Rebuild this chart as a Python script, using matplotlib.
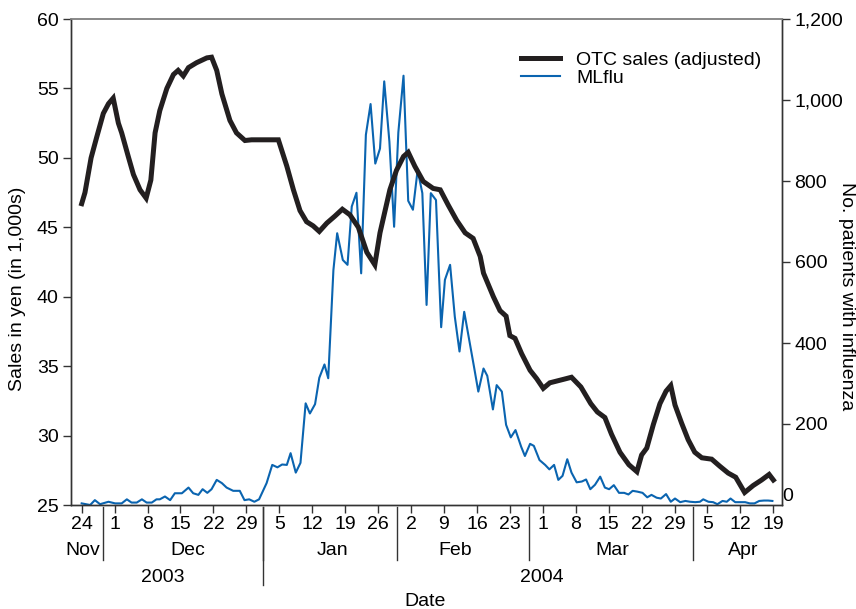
import matplotlib
matplotlib.use("Agg")
import matplotlib.pyplot as plt
from matplotlib.lines import Line2D

plt.rcParams['font.family'] = ['Liberation Sans', 'DejaVu Sans']

# ---- data (day 0 = 24 Nov 2003) ----
otc_day = [0, 0.7, 2, 3.2, 4.6, 5.7, 6.7, 7.8, 8.5, 9.9, 11, 12.4, 13.7, 14.7, 15.6, 16.6,
           18.1, 19.5, 20.5, 21.6, 22.7, 24.4, 26.6, 27.6, 28.7, 29.8, 31.5, 32.9, 34.7,
           36.1, 41.8, 43.6, 45, 46.4, 47.8, 49.2, 50.5, 52.1, 53.8, 55.4, 57, 58.8, 60.6,
           62.3, 63.4, 65.5, 66.9, 68.4, 69.4, 70.8, 72.6, 74.7, 76.2, 77.9, 79.7, 81.5,
           83.2, 84.7, 85.4, 87.5, 88.9, 90.2, 91.0, 92.1, 93.5, 95.3, 96.7, 98.1, 99.5,
           102.4, 104.1, 106.1, 108.2, 109.6, 111.2, 112.6, 114.4, 116.3, 118.0, 119.0,
           120.1, 121.5, 122.9, 124.2, 125.2, 126.1, 127.5, 128.9, 130.3, 131.8, 133.9,
           135.6, 137.4, 139.0, 140.9, 142.7, 144.5, 146.1, 147.0]
otc_sales = [46.7, 47.5, 50.0, 51.5, 53.2, 53.9, 54.3, 52.5, 51.8, 50.1, 48.8, 47.7, 47.1,
             48.4, 51.8, 53.4, 55.0, 56.0, 56.3, 55.9, 56.5, 56.85, 57.2, 57.25, 56.3, 54.6,
             52.7, 51.8, 51.25, 51.3, 51.3, 49.4, 47.7, 46.2, 45.4, 45.1, 44.7, 45.3, 45.8,
             46.3, 45.9, 45.0, 43.2, 42.3, 44.6, 47.7, 49.1, 50.1, 50.4, 49.4, 48.3, 47.8,
             47.7, 46.6, 45.5, 44.6, 44.2, 42.9, 41.7, 40.0, 39.0, 38.6, 37.2, 37.0, 35.9,
             34.7, 34.1, 33.4, 33.8, 34.05, 34.2, 33.5, 32.3, 31.7, 31.3, 30.1, 28.8, 27.9,
             27.4, 28.6, 29.1, 30.8, 32.3, 33.2, 33.6, 32.2, 30.9, 29.7, 28.8, 28.4, 28.3,
             27.8, 27.3, 27.0, 25.9, 26.4, 26.8, 27.2, 26.8]

flu_day = [0.0, 1.8, 2.8, 3.9, 5.7, 7.1, 8.5, 9.6, 10.6, 11.7, 12.8, 13.8, 14.9, 15.9, 16.6,
           17.7, 18.8, 19.8, 21.3, 22.7, 23.7, 24.8, 25.7, 26.7, 27.6, 28.7, 29.8, 30.8,
           32.2, 33.6, 34.6, 35.6, 36.7, 37.7, 39.3, 40.5, 41.6, 42.6, 43.6, 44.4, 45.5,
           46.5, 47.6, 48.5, 49.6, 50.5, 51.6, 52.4, 53.5, 54.3, 55.5, 56.5, 57.4, 58.4,
           59.4, 60.4, 61.4, 62.4, 63.4, 64.3, 65.4, 66.4, 67.3, 68.4, 69.4, 70.4, 71.4,
           72.4, 73.3, 74.2, 75.3, 76.4, 77.2, 78.3, 79.3, 80.3, 81.3, 82.5, 83.4, 84.3,
           85.4, 86.2, 87.4, 88.2, 89.3, 90.2, 91.2, 92.2, 93.4, 94.2, 95.3, 96.1, 97.3,
           98.5, 99.4, 100.4, 101.3, 102.2, 103.2, 104.1, 105.2, 106.3, 107.2, 108.1,
           109.1, 110.2, 111.2, 112.1, 113.1, 114.2, 115.3, 116.2, 117.1, 118.1, 119.2,
           120.2, 121.1, 122.2, 123.1, 124.2, 125.2, 126.1, 127.2, 128.3, 129.3, 130.4,
           131.4, 132.1, 133.2, 134.2, 135.1, 136.2, 137.1, 137.9, 138.9, 139.9, 141.0,
           142.0, 143.0, 144.0, 145.0, 145.9, 146.8]
flu_patients = [4, 0, 12, 2, 8, 4, 4, 14, 6, 6, 14, 6, 6, 14, 14, 21, 12, 29, 29, 43, 29, 25,
                39, 30, 39, 62, 54, 43, 35, 35, 12, 14, 8, 14, 54, 99, 93, 100, 99, 128, 80,
                104, 251, 226, 249, 314, 347, 313, 580, 671, 605, 593, 737, 771, 572, 914,
                990, 843, 880, 1046, 897, 687, 920, 1060, 751, 729, 827, 770, 494, 770, 753,
                439, 556, 593, 465, 379, 477, 399, 340, 280, 337, 319, 236, 296, 280, 198,
                167, 185, 144, 121, 151, 146, 111, 99, 88, 99, 62, 72, 113, 80, 56, 58, 63,
                39, 50, 70, 43, 39, 49, 30, 30, 26, 35, 33, 30, 19, 25, 18, 16, 27, 8, 16, 7,
                10, 8, 7, 8, 14, 8, 7, 2, 10, 8, 16, 7, 7, 7, 4, 4, 10, 11, 11, 10]

week_ticks = list(range(0, 148, 7))
week_labels = ['24', '1', '8', '15', '22', '29', '5', '12', '19', '26', '2', '9', '16',
               '23', '1', '8', '15', '22', '29', '5', '12', '19']
months = ['Nov', 'Dec', 'Jan', 'Feb', 'Mar', 'Apr']
years = ['2003', '2004']

# layout positions (in day units) for the hierarchical date axis
month_label_pos = [0.3, 22.6, 53.4, 79.3, 112.7, 140.6]
month_sep_pos = [4.5, 38.6, 67.1, 95.0, 130.0]
year_sep_pos = 38.6
year_label_pos = [17.3, 97.8]

FS = 14
BLACK = '#231f20'
BLUE = '#0a64b0'

fig = plt.figure(figsize=(8.56, 6.09), dpi=100)
ax = fig.add_axes([71 / 856, 1 - 505 / 609, (782 - 71) / 856, (505 - 19) / 609])
ax2 = ax.twinx()

ax2.plot(flu_day, flu_patients, color=BLUE, lw=1.5, zorder=2)
ax.plot(otc_day, otc_sales, color=BLACK, lw=3.6, solid_joinstyle='miter', zorder=3)
ax.set_zorder(ax2.get_zorder() + 1)
ax.patch.set_visible(False)

ax.set_xlim(-2.27, 148.84)
ax.set_ylim(25, 60)
ax2.set_ylim(0, 1200)

ax.set_yticks(range(25, 61, 5))
ax.tick_params(axis='y', labelsize=FS, length=6, width=1, color='#333333', pad=3)
ax2.set_yticks(range(200, 1201, 200))
ax2.set_yticklabels(['200', '400', '600', '800', '1,000', '1,200'])
ax2.tick_params(axis='y', labelsize=FS, length=6, width=1, color='#333333', pad=3)
ax2.text(1.0, 22, '0', transform=ax2.get_yaxis_transform(), fontsize=FS,
         ha='left', va='center')

ax.set_xticks(week_ticks)
ax.set_xticklabels(week_labels)
ax.tick_params(axis='x', labelsize=FS, length=6, width=1, color='#333333', pad=2)

for a in (ax, ax2):
    for s in ('left', 'right', 'bottom'):
        a.spines[s].set_color('#333333')
        a.spines[s].set_linewidth(1.0)
    a.spines['top'].set_color('#888888')
    a.spines['top'].set_linewidth(1.2)

trans = ax.get_xaxis_transform()
for xp in month_sep_pos:
    ax.add_line(Line2D([xp, xp], [-0.004, -0.113], transform=trans, color='#333333',
                       lw=1.0, clip_on=False))
ax.add_line(Line2D([year_sep_pos, year_sep_pos], [-0.004, -0.165], transform=trans,
                   color='#333333', lw=1.0, clip_on=False))
for xp, lab in zip(month_label_pos, months):
    ax.text(xp, -0.093, lab, transform=trans, ha='center', va='center', fontsize=FS)
for xp, lab in zip(year_label_pos, years):
    ax.text(xp, -0.149, lab, transform=trans, ha='center', va='center', fontsize=FS)

fig.text(425 / 856, 1 - 601 / 609, 'Date', ha='center', va='center', fontsize=FS)
fig.text(18 / 856, 1 - 289 / 609, 'Sales in yen (in 1,000s)', rotation=90,
         ha='center', va='center', fontsize=FS)
fig.text(847 / 856, 1 - 296 / 609, 'No. patients with influenza', rotation=270,
         ha='center', va='center', fontsize=FS)

handles = [Line2D([], [], color=BLACK, lw=3.6), Line2D([], [], color=BLUE, lw=1.5)]
ax.legend(handles, ['OTC sales (adjusted)', 'MLflu'], loc='upper right',
          bbox_to_anchor=(0.99, 0.962), frameon=False, fontsize=FS,
          handlelength=2.0, handletextpad=0.85, labelspacing=0.05,
          borderaxespad=0.3)

fig.savefig('out.png', dpi=100)
